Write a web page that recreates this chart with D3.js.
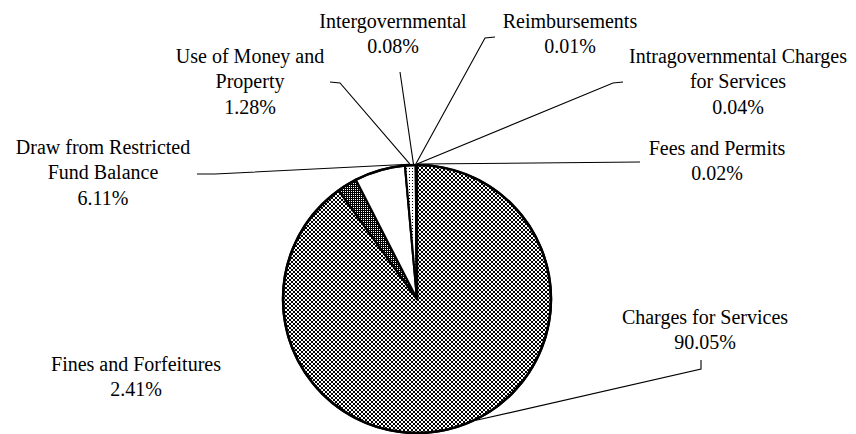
<!DOCTYPE html>
<html><head><meta charset="utf-8"><script src="https://cdn.jsdelivr.net/npm/d3@7"></script>
<style>
  html, body { margin: 0; padding: 0; background: #fff; }
  #wrap { position: relative; width: 856px; height: 434px; }
  #s { position: absolute; left: 0; top: 0; }
  .lbl { position: absolute; white-space: nowrap; font-family: "Liberation Serif", "Tinos", "Times"; font-size: 20px; line-height: 20px; color: #000; transform: translateX(-50%); }
</style>
</head>
<body>
<div id="wrap"><svg id="s" width="856" height="434"></svg></div>
<script>
// ---- data ----
const categories = [
  "Charges for Services",
  "Fines and Forfeitures",
  "Draw from Restricted Fund Balance",
  "Use of Money and Property",
  "Intergovernmental",
  "Reimbursements",
  "Intragovernmental Charges for Services",
  "Fees and Permits"
];
const values = [90.05, 2.41, 6.11, 1.28, 0.08, 0.01, 0.04, 0.02];
const fills = ["url(#pCharges)", "url(#pFines)", "#ffffff", "url(#pUse)", "#000", "#000", "#000", "#000"];

// ---- layout (label placement, line breaks, leader lines) ----
const labelLayout = [
  { lines: ["Charges for Services"], x: 705, y: 323, leader: [[701, 360], [701, 369]], anchorDeg: 154 },
  { lines: ["Fines and Forfeitures"], x: 136, y: 370, leader: null },
  { lines: ["Draw from Restricted", "Fund Balance"], x: 103, y: 153, leader: [[197, 174], [215, 174]], anchorDeg: -3.5 },
  { lines: ["Use of Money and", "Property"], x: 250, y: 62, leader: [[330, 82], [340, 83]], anchorDeg: -3 },
  { lines: ["Intergovernmental"], x: 393, y: 27, leader: [[400, 72]], anchorDeg: -1.5 },
  { lines: ["Reimbursements"], x: 570, y: 27, leader: [[495, 37], [485, 38]], anchorDeg: -0.5 },
  { lines: ["Intragovernmental Charges", "for Services"], x: 738, y: 62, leader: [[623, 82], [613, 83]], anchorDeg: 0 },
  { lines: ["Fees and Permits"], x: 717, y: 154, leader: [[640, 162]], anchorDeg: 0.5 }
];
const lineH = 25.5;
const baselineOffset = 16.3; // baseline distance from top of a 20px line box

const svg = d3.select("#s");
const cx = 417, cy = 299, r = 134;

// patterns
const defs = svg.append("defs");
const pc = defs.append("pattern").attr("id", "pCharges").attr("patternUnits", "userSpaceOnUse")
  .attr("width", 4).attr("height", 4);
pc.append("rect").attr("width", 4).attr("height", 4).attr("fill", "#fff");
pc.append("rect").attr("x", 0).attr("y", 0).attr("width", 2).attr("height", 2).attr("fill", "#000");
pc.append("rect").attr("x", 2).attr("y", 2).attr("width", 2).attr("height", 2).attr("fill", "#000");

const pf = defs.append("pattern").attr("id", "pFines").attr("patternUnits", "userSpaceOnUse")
  .attr("width", 2).attr("height", 2);
pf.append("rect").attr("width", 2).attr("height", 2).attr("fill", "#000");
pf.append("rect").attr("x", 0).attr("y", 0).attr("width", 1).attr("height", 1).attr("fill", "#fff");

const pu = defs.append("pattern").attr("id", "pUse").attr("patternUnits", "userSpaceOnUse")
  .attr("width", 3).attr("height", 3);
pu.append("rect").attr("width", 3).attr("height", 3).attr("fill", "#fff");
pu.append("rect").attr("x", 1).attr("y", 1).attr("width", 1).attr("height", 1).attr("fill", "#000");

const data = categories.map((c, i) => ({ name: c, value: values[i], fill: fills[i], layout: labelLayout[i] }));

const pie = d3.pie().sort(null).value(d => d.value).startAngle(0).endAngle(2 * Math.PI);
const arcs = pie(data);
const arc = d3.arc().innerRadius(0).outerRadius(r);

const g = svg.append("g").attr("transform", `translate(${cx},${cy})`);
g.selectAll("path.slice").data(arcs).join("path")
  .attr("class", "slice")
  .attr("d", arc)
  .attr("fill", d => d.data.fill)
  .attr("stroke", "#000")
  .attr("stroke-width", 2.2)
  .attr("stroke-linejoin", "round");
g.append("circle").attr("r", r).attr("fill", "none").attr("stroke", "#000").attr("stroke-width", 2.6);

const fmt = v => d3.format(".2f")(v) + "%";

// leader lines
const line = d3.line();
arcs.forEach(a => {
  const L = a.data.layout;
  if (!L.leader) return;
  const ang = L.anchorDeg * Math.PI / 180;
  const end = [cx + (r + 1) * Math.sin(ang), cy - (r + 1) * Math.cos(ang)];
  svg.append("path")
    .attr("d", line([...L.leader, end]))
    .attr("fill", "none").attr("stroke", "#000").attr("stroke-width", 1.1);
});

// labels: one HTML line per label line
const labelLines = [];
arcs.forEach(a => {
  const L = a.data.layout;
  [...L.lines, fmt(a.data.value)].forEach((s, i) => {
    labelLines.push({ text: s, x: L.x, y: L.y + i * lineH });
  });
});
d3.select("#wrap").selectAll("div.lbl").data(labelLines).join("div")
  .attr("class", "lbl")
  .style("left", d => d.x + "px")
  .style("top", d => (d.y - baselineOffset) + "px")
  .text(d => d.text);
</script>
</body></html>
